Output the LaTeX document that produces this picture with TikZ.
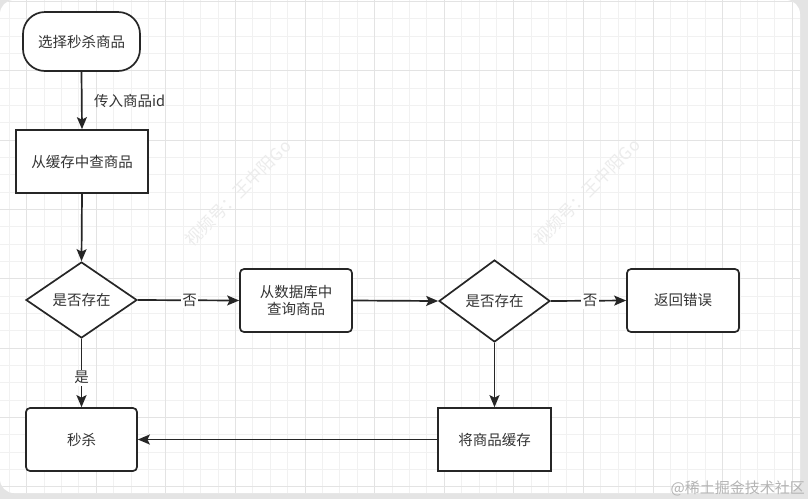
\documentclass[tikz,border=0pt]{standalone}
\usepackage{fontspec}
\setmainfont{Noto Sans CJK SC}
\usetikzlibrary{shapes.geometric,arrows.meta}
\definecolor{ink}{HTML}{262626}
\definecolor{txt}{HTML}{333333}
\definecolor{outer}{HTML}{E4E4E4}
\definecolor{gminor}{HTML}{F1F1F1}
\definecolor{gmajor}{HTML}{E3E3E3}
\definecolor{wmark}{HTML}{ECECEC}
\definecolor{wmark2}{HTML}{B4B4B4}
\begin{document}
\begin{tikzpicture}[x=1pt,y=-1pt,
  base/.style={draw=ink,line width=1.7pt,fill=white,text=txt,font=\fontsize{14.5}{17}\selectfont,inner sep=2pt,align=center},
  sqbox/.style={base,rectangle},
  rbox/.style={base,rectangle,rounded corners=4pt},
  term/.style={base,rectangle,rounded corners=22pt},
  decide/.style={base,diamond,inner sep=0pt},
  conn/.style={draw=ink,line width=1.7pt,-{Stealth[length=12pt,width=10pt,inset=2.5pt]}},
  plain/.style={draw=ink,line width=1.7pt},
  lbl/.style={fill=white,text=txt,font=\fontsize{14.5}{17}\selectfont,inner sep=1.5pt},
  minorline/.style={draw=gminor,line width=0.8pt},
  majorline/.style={draw=gmajor,line width=0.9pt}]
\useasboundingbox (0,0) rectangle (808,499);
\fill[outer] (0,0) rectangle (808,499);
\fill[white,rounded corners=14pt] (0,0) rectangle (800,493);
\begin{scope}
\clip[rounded corners=14pt] (0,0) rectangle (800,493);
\foreach \i in {0,...,46} { \draw[minorline] ({9.2+17.4*\i},0) -- ({9.2+17.4*\i},493); }
\foreach \i in {0,...,29} { \draw[minorline] (0,{1.4+17.33*\i}) -- (800,{1.4+17.33*\i}); }
\foreach \i in {0,...,11} { \draw[majorline] ({26.6+69.6*\i},0) -- ({26.6+69.6*\i},493); }
\foreach \i in {0,...,7} { \draw[majorline] (0,{1.4+69.33*\i}) -- (800,{1.4+69.33*\i}); }
\end{scope}
% faint watermarks
\node[text=wmark,font=\fontsize{17}{20}\selectfont,rotate=45] (wm1) at (238,193) {视频号：王中阳Go};
\node[text=wmark,font=\fontsize{17}{20}\selectfont,rotate=45] (wm2) at (587,192) {视频号：王中阳Go};

% nodes
\node[term,minimum width=117pt,minimum height=59pt] (start) at (81.5,41.5) {选择秒杀商品};
\node[sqbox,minimum width=132pt,minimum height=63pt] (cache) at (82,161.5) {从缓存中查商品};
\node[decide,minimum width=111pt,minimum height=76pt] (d1) at (81.5,300) {是否存在};
\node[rbox,minimum width=112pt,minimum height=63pt] (db) at (296,300.5) {从数据库中\\查询商品};
\node[decide,minimum width=111pt,minimum height=82pt] (d2) at (494.5,301) {是否存在};
\node[rbox,minimum width=112pt,minimum height=63pt] (err) at (683,300.5) {返回错误};
\node[sqbox,minimum width=113pt,minimum height=63pt] (save) at (494.5,439.5) {将商品缓存};
\node[rbox,minimum width=111pt,minimum height=63pt] (kill) at (81.5,439.5) {秒杀};

% connectors
\draw[conn] (start.south) -- (cache.north);
\node[anchor=west,text=txt,font=\fontsize{14.5}{17}\selectfont,inner sep=0pt] (idlbl) at (94,101) {传入商品id};
\draw[conn] (cache.south) -- (d1.north);
\draw[conn] (d1.east) -- node[lbl,pos=0.51] (no1) {否} (db.west);
\draw[conn] (db.east) -- (d2.west);
\draw[conn] (d2.east) -- node[lbl,pos=0.52] (no2) {否} (err.west);
\draw[conn] (d2.south) -- (save.north);
\draw[conn] (save.west) -- (kill.east);
\draw[conn] (d1.south) -- node[lbl,pos=0.57] (yes1) {是} (kill.north);

\node[anchor=east,text=wmark2,font=\fontsize{15}{18}\selectfont,inner sep=0pt] (wm3) at (805,488) {@稀土掘金技术社区};
\end{tikzpicture}
\end{document}
